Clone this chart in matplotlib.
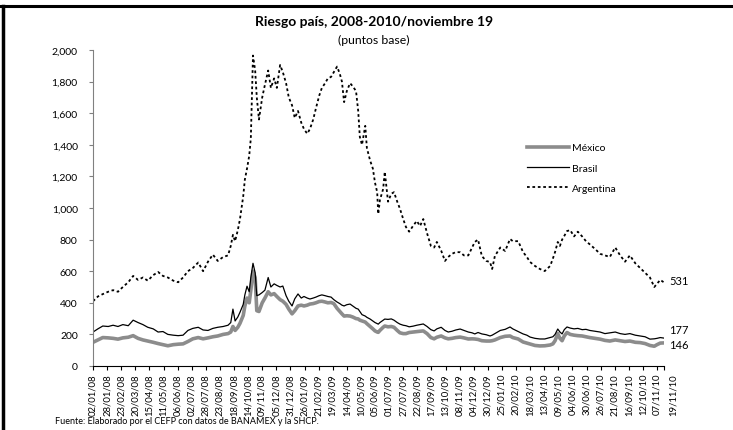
import numpy as np
import pandas as pd
import matplotlib
matplotlib.use('Agg')
import matplotlib.pyplot as plt
import matplotlib.transforms as mtransforms
from matplotlib.ticker import FuncFormatter
from matplotlib.lines import Line2D

plt.rcParams['font.family'] = ['Lato', 'DejaVu Sans']

# Fechas de lectura (dd/mm/yy) y riesgo pais en puntos base
fechas = [
    '02/01/08', '11/01/08', '20/01/08', '30/01/08', '08/02/08', '17/02/08', '26/02/08', '07/03/08',
    '16/03/08', '25/03/08', '03/04/08', '12/04/08', '22/04/08', '01/05/08', '10/05/08', '19/05/08',
    '29/05/08', '07/06/08', '16/06/08', '25/06/08', '04/07/08', '14/07/08', '23/07/08', '01/08/08',
    '10/08/08', '19/08/08', '29/08/08', '07/09/08', '12/09/08', '16/09/08', '20/09/08', '25/09/08',
    '29/09/08', '05/10/08', '08/10/08', '12/10/08', '16/10/08', '19/10/08', '23/10/08', '27/10/08',
    '30/10/08', '03/11/08', '09/11/08', '14/11/08', '20/11/08', '25/11/08', '01/12/08', '06/12/08',
    '12/12/08', '17/12/08', '23/12/08', '28/12/08', '03/01/09', '08/01/09', '14/01/09', '20/01/09',
    '25/01/09', '31/01/09', '05/02/09', '11/02/09', '16/02/09', '22/02/09', '27/02/09', '05/03/09',
    '10/03/09', '16/03/09', '21/03/09', '27/03/09', '01/04/09', '05/04/09', '09/04/09', '14/04/09',
    '20/04/09', '25/04/09', '01/05/09', '05/05/09', '08/05/09', '12/05/09', '18/05/09', '21/05/09',
    '27/05/09', '01/06/09', '05/06/09', '09/06/09', '11/06/09', '14/06/09', '20/06/09', '23/06/09',
    '29/06/09', '05/07/09', '10/07/09', '16/07/09', '21/07/09', '27/07/09', '01/08/09', '07/08/09',
    '14/08/09', '21/08/09', '27/08/09', '02/09/09', '09/09/09', '16/09/09', '22/09/09', '27/09/09',
    '05/10/09', '12/10/09', '18/10/09', '25/10/09', '01/11/09', '09/11/09', '16/11/09', '24/11/09',
    '01/12/09', '06/12/09', '12/12/09', '19/12/09', '27/12/09', '03/01/10', '07/01/10', '12/01/10',
    '22/01/10', '31/01/10', '09/02/10', '14/02/10', '24/02/10', '05/03/10', '12/03/10', '18/03/10',
    '27/03/10', '05/04/10', '14/04/10', '24/04/10', '29/04/10', '03/05/10', '08/05/10', '12/05/10',
    '16/05/10', '20/05/10', '25/05/10', '31/05/10', '07/06/10', '14/06/10', '22/06/10', '29/06/10',
    '06/07/10', '16/07/10', '25/07/10', '03/08/10', '12/08/10', '22/08/10', '31/08/10', '09/09/10',
    '18/09/10', '28/09/10', '07/10/10', '16/10/10', '25/10/10', '02/11/10', '07/11/10', '13/11/10',
    '19/11/10',
]

argentina = [
    410, 440, 455, 470, 480, 470, 500, 530,
    570, 545, 560, 540, 575, 595, 570, 560,
    540, 530, 560, 600, 620, 655, 600, 660,
    705, 665, 690, 700, 760, 830, 790, 860,
    930, 1075, 1180, 1250, 1330, 1440, 1965, 1870,
    1700, 1560, 1700, 1780, 1870, 1760, 1820, 1760,
    1905, 1860, 1790, 1700, 1650, 1570, 1614, 1540,
    1500, 1470, 1500, 1560, 1630, 1710, 1760, 1790,
    1820, 1830, 1860, 1895, 1850, 1800, 1670, 1740,
    1790, 1770, 1740, 1614, 1450, 1400, 1520, 1380,
    1300, 1250, 1160, 1100, 962, 1050, 1120, 1230,
    1040, 1090, 1100, 1040, 995, 930, 880, 850,
    886, 918, 886, 930, 840, 760, 750, 785,
    730, 665, 690, 710, 721, 720, 700, 700,
    750, 785, 800, 696, 665, 658, 614, 696,
    750, 728, 804, 790, 790, 721, 690, 658,
    633, 614, 601, 633, 680, 721, 785, 760,
    800, 823, 854, 860, 820, 850, 820, 790,
    770, 740, 710, 700, 690, 750, 700, 660,
    700, 650, 620, 590, 560, 500, 520, 545,
    531,
]

brasil = [
    215, 235, 253, 250, 258, 250, 262, 255,
    290, 275, 262, 245, 235, 215, 218, 200,
    195, 192, 195, 225, 238, 245, 228, 225,
    238, 245, 250, 258, 275, 360, 285, 310,
    340, 390, 450, 505, 470, 560, 650, 590,
    445, 450, 465, 480, 560, 500, 520, 510,
    500, 506, 445, 410, 380, 425, 456, 430,
    440, 430, 424, 430, 436, 445, 450, 445,
    440, 436, 420, 405, 395, 385, 380, 388,
    392, 380, 365, 360, 345, 325, 316, 308,
    297, 285, 275, 268, 265, 275, 290, 297,
    295, 298, 290, 275, 265, 258, 255, 248,
    252, 258, 262, 266, 250, 230, 222, 235,
    245, 225, 215, 220, 228, 234, 225, 215,
    210, 203, 212, 203, 198, 190, 195, 205,
    225, 232, 247, 235, 218, 203, 195, 183,
    175, 171, 171, 180, 185, 200, 234, 215,
    203, 230, 247, 240, 235, 238, 230, 232,
    225, 220, 215, 205, 210, 215, 205, 200,
    205, 195, 190, 185, 170, 172, 175, 180,
    177,
]

mexico = [
    150, 165, 180, 178, 175, 170, 178, 182,
    192, 175, 165, 158, 150, 142, 135, 128,
    135, 138, 140, 155, 172, 180, 172, 178,
    185, 190, 200, 205, 215, 250, 225, 245,
    270, 320, 380, 430, 400, 480, 600, 560,
    350, 345, 400, 430, 470, 450, 458, 440,
    420, 410, 390, 360, 330, 350, 380, 385,
    380, 385, 392, 395, 400, 408, 410, 405,
    400, 402, 395, 365, 345, 330, 316, 318,
    316, 310, 300, 298, 290, 285, 278, 268,
    250, 235, 222, 215, 213, 225, 245, 253,
    248, 250, 245, 225, 210, 205, 205, 212,
    215, 218, 220, 222, 205, 180, 172, 182,
    190, 178, 172, 175, 180, 183, 178, 171,
    172, 171, 168, 160, 158, 158, 160, 165,
    180, 188, 190, 180, 171, 152, 145, 139,
    130, 127, 128, 133, 140, 160, 205, 175,
    160, 190, 212, 200, 195, 192, 190, 185,
    180, 175, 170, 162, 158, 165, 160, 155,
    158, 150, 148, 142, 130, 125, 135, 145,
    146,
]

fechas_dt = pd.to_datetime(fechas, format='%d/%m/%y')

fig = plt.figure(figsize=(7.33, 4.31), dpi=100)
ax = fig.add_axes([0.1269, 0.1485, 0.7783, 0.7332])

estilo_arg = dict(color='black', linewidth=1.3, linestyle=(0, (1.5, 1.5)))

ax.plot(fechas_dt, mexico, color='#8c8c8c', linewidth=2.6, label='México')
ax.plot(fechas_dt, brasil, color='black', linewidth=0.9, label='Brasil')
ax.plot(fechas_dt, argentina, label='Argentina', **estilo_arg)

inicio = fechas_dt[0]
fin = fechas_dt[-1]
ax.set_xlim(inicio, fin)
ax.set_ylim(0, 2000)
ax.set_yticks(np.arange(0, 2001, 200))
ax.yaxis.set_major_formatter(FuncFormatter(lambda v, p: f'{int(v):,}'))

ticks_x = list(pd.date_range(inicio, fin, freq='26D'))
ax.set_xticks(ticks_x + [fin])
ax.set_xticklabels([t.strftime('%d/%m/%y') for t in ticks_x] + [''], rotation=90, fontsize=6.8)
# la ultima etiqueta (19/11/10) va un poco a la derecha, como en el original
trans_fin = mtransforms.blended_transform_factory(ax.transData, ax.transAxes) + \
    mtransforms.ScaledTranslation(7 / 72, -5 / 72, fig.dpi_scale_trans)
ax.text(fin, 0, fin.strftime('%d/%m/%y'), transform=trans_fin, rotation=90,
        ha='center', va='top', fontsize=6.8, clip_on=False)

ax.tick_params(axis='y', labelsize=7.5, length=3, color='#808080', pad=8)
ax.tick_params(axis='x', length=3, pad=2)

for s in ['top', 'right']:
    ax.spines[s].set_visible(False)
ax.spines['left'].set_color('#808080')
ax.spines['bottom'].set_color('black')

# Valores finales
ax.annotate(f'{argentina[-1]}', xy=(1.0, argentina[-1]), xycoords=('axes fraction', 'data'),
            xytext=(4, 1), textcoords='offset points', fontsize=8, va='center')
ax.annotate(f'{brasil[-1]}', xy=(1.0, brasil[-1]), xycoords=('axes fraction', 'data'),
            xytext=(4, 6), textcoords='offset points', fontsize=8, va='center')
ax.annotate(f'{mexico[-1]}', xy=(1.0, mexico[-1]), xycoords=('axes fraction', 'data'),
            xytext=(4, -1), textcoords='offset points', fontsize=8, va='center')

handles = [
    Line2D([], [], color='#8c8c8c', linewidth=2.6),
    Line2D([], [], color='black', linewidth=0.9),
    Line2D([], [], **estilo_arg),
]
ax.legend(handles, ['México', 'Brasil', 'Argentina'], loc='upper left',
          bbox_to_anchor=(0.745, 0.735), frameon=False, fontsize=7.5,
          handlelength=4.0, handletextpad=0.3, labelspacing=1.05)

fig.text(0.51, 0.950, 'Riesgo país, 2008-2010/noviembre 19', ha='center', va='center',
         fontsize=10, fontweight='bold')
fig.text(0.51, 0.907, '(puntos base)', ha='center', va='center', fontsize=8.8)
fig.text(0.075, 0.012, 'Fuente: Elaborado por el CEFP con datos de BANAMEX y la SHCP.',
         ha='left', va='bottom', fontsize=6.5)

# marco de la celda
fig.add_artist(Line2D([0, 1], [0.983, 0.983], transform=fig.transFigure, color='black', linewidth=2.2))
fig.add_artist(Line2D([0.004, 0.004], [0, 0.983], transform=fig.transFigure, color='black', linewidth=2.5))

fig.savefig('out.png', dpi=100)
